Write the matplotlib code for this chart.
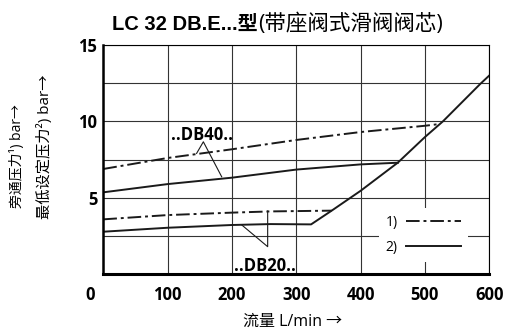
import matplotlib.pyplot as plt

plt.rcParams['font.family'] = ['Open Sans', 'Noto Sans CJK SC', 'DejaVu Sans']

# DB40 curves
db40_bypass_x = [0, 100, 200, 300, 400, 500, 518]
db40_bypass_y = [6.88, 7.6, 8.17, 8.78, 9.3, 9.71, 9.8]
db40_min_x = [0, 100, 200, 300, 400, 458]
db40_min_y = [5.35, 5.89, 6.31, 6.84, 7.18, 7.29]

# DB20 curves
db20_bypass_x = [0, 100, 200, 260, 355]
db20_bypass_y = [3.58, 3.86, 4.02, 4.1, 4.15]
db20_min_x = [0, 100, 200, 260, 323, 355, 400, 458, 500, 528, 586, 600]
db20_min_y = [2.77, 3.03, 3.21, 3.27, 3.25, 4.15, 5.45, 7.3, 8.97, 10.0, 12.45, 13.0]

xticks = [0, 100, 200, 300, 400, 500, 600]
yticks = [0, 2.5, 5, 7.5, 10, 12.5, 15]
ytick_labels = ['', '', '5', '', '10', '', '15']

fig = plt.figure(figsize=(5.07, 3.30), dpi=100)
ax = fig.add_axes([0.2038, 0.1697, 0.7612, 0.6939])

dd = dict(color='#1a1a1a', lw=1.4, dashes=[7, 2, 1.5, 2])
sl = dict(color='#1a1a1a', lw=1.4)

ax.plot(db40_bypass_x, db40_bypass_y, label='1)', **dd)
ax.plot(db40_min_x, db40_min_y, label='2)', **sl)
ax.plot(db20_bypass_x, db20_bypass_y, **dd)
ax.plot(db20_min_x, db20_min_y, **sl)

# leader lines
ax.plot([145, 155.5, 184], [7.9, 8.66, 6.37], color='#1a1a1a', lw=0.8)
ax.plot([255.5, 255.5, 215], [4.13, 1.79, 3.22], color='#1a1a1a', lw=0.8)
ax.text(154, 8.78, '..DB40..', ha='center', va='baseline', fontsize=12, fontweight='bold')
ax.text(251.5, 0.2, '..DB20..', ha='center', va='baseline', fontsize=12, fontweight='bold')

ax.set_xlim(0, 600)
ax.set_ylim(0, 15)
ax.set_xticks(xticks)
ax.set_xticklabels([''] + [str(v) for v in xticks[1:]])
ax.set_yticks(yticks)
ax.set_yticklabels(ytick_labels)
ax.tick_params(length=0, labelsize=12)
ax.tick_params(axis='x', pad=8.6)
ax.tick_params(axis='y', pad=4.3)
for lab in ax.get_xticklabels() + ax.get_yticklabels():
    lab.set_fontweight('bold')
ax.grid(True, color='#333333', lw=0.8)
ax.set_axisbelow(True)

ax.spines['left'].set_linewidth(1.8)
ax.spines['bottom'].set_linewidth(2.2)
ax.spines['top'].set_linewidth(0.8)
ax.spines['right'].set_linewidth(0.8)

leg = ax.legend(loc='center', bbox_to_anchor=(0.8295, 0.17), markerfirst=False,
                fontsize=10, handlelength=4, handletextpad=0.6, labelspacing=0.7,
                borderpad=0.5, frameon=True, fancybox=False, framealpha=1,
                edgecolor='none', facecolor='white')

fig.text(90 / 507, 0.1333, '0', ha='center', va='top', fontsize=12, fontweight='bold')

fig.text(258 / 507, 0.909, 'LC 32 DB.E...型', ha='right', va='baseline', fontsize=14.5,
         fontweight='bold', family=['Liberation Sans', 'Noto Sans CJK SC'])
fig.text(258 / 507, 0.909, '(带座阀式滑阀阀芯)', ha='left', va='baseline', fontsize=15.5)

fig.text(292.5 / 507, (330 - 322) / 330, '流量 L/min →', ha='center', va='center', fontsize=11.5)
fig.text(18 / 507, (330 - 156) / 330, '旁通压力¹) bar→', rotation=90, ha='center', va='center', fontsize=10)
fig.text(45 / 507, (330 - 147) / 330, '最低设定压力²) bar→', rotation=90, ha='center', va='center', fontsize=11)

fig.savefig('out.png', dpi=100)
